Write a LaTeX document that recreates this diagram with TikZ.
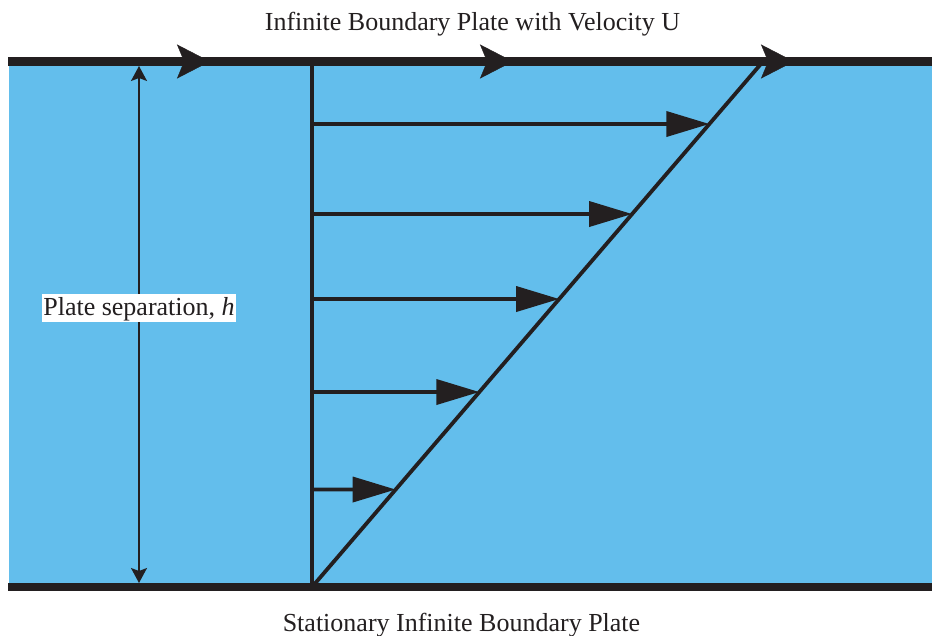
\documentclass[tikz,border=0pt]{standalone}
\usepackage{fontspec}
\setmainfont{Liberation Serif}
\usetikzlibrary{arrows.meta,calc}
\definecolor{fluid}{RGB}{99,190,236}
\definecolor{ink}{RGB}{35,31,32}
\begin{document}
\begin{tikzpicture}[x=1pt,y=-1pt,
  plate/.style={draw=ink,line width=8.5pt,line cap=butt},
  platearrow/.style={draw=ink,fill=ink,line width=0.4pt,-{Stealth[length=33pt,width=34pt,inset=7pt]}},
  profile/.style={draw=ink,line width=3.8pt},
  velarrow/.style={draw=ink,line width=3.6pt,-{Triangle[length=43pt,width=25pt]}},
  separrow/.style={draw=ink,line width=1.5pt,{Stealth[length=15pt,width=16pt,inset=3pt]}-{Stealth[length=15pt,width=16pt,inset=3pt]}},
  txt/.style={text=ink,font=\fontsize{26}{30}\selectfont},
  labelbox/.style={txt,fill=white,inner xsep=1.5pt,inner ysep=1.5pt,text height=19.5pt,text depth=5.5pt}]
\useasboundingbox (0,0) rectangle (932,635);
% fluid
\fill[fluid] (8.5,62) rectangle (932,587);
% plates
\coordinate (TL) at (8,61.5);
\coordinate (TR) at (932,61.5);
\coordinate (BL) at (8,587);
\coordinate (BR) at (932,587);
\draw[plate] (TL) -- (TR);
\draw[plate] (BL) -- (BR);
% plate motion arrows
\foreach \tx [count=\i] in {210,513,794}{
  \coordinate (pa\i s) at (\tx-33,61.5);
  \coordinate (pa\i) at (\tx,61.5);
  \draw[platearrow] (pa\i s) -- (pa\i);
}
% profile lines
\coordinate (V0) at (312,587);
\coordinate (V1) at (312,61.5);
\coordinate (D1) at (763,61.5);
\draw[profile] (V0) -- (V1);
\draw[profile,line cap=round] (V0) -- (D1);
% velocity arrows
\foreach \vy [count=\i] in {124,214,299,392,489.5}{
  \coordinate (vs\i) at (312,\vy);
  \coordinate (ve\i) at (932,\vy);
  \coordinate (vt\i) at (intersection of V0--D1 and vs\i--ve\i);
  \draw[velarrow] (vs\i) -- (vt\i);
}
% plate separation
\coordinate (S0) at (139,66);
\coordinate (S1) at (139,583);
\draw[separrow] (S0) -- (S1);
\node[labelbox,anchor=base] (lbl) at (139,315) {Plate separation, \textit{h}};
% titles
\node[txt,anchor=base] (toptitle) at (472.5,30) {Infinite Boundary Plate with Velocity U};
\node[txt,anchor=base] (bottitle) at (461.5,631) {Stationary Infinite Boundary Plate};
\end{tikzpicture}
\end{document}
